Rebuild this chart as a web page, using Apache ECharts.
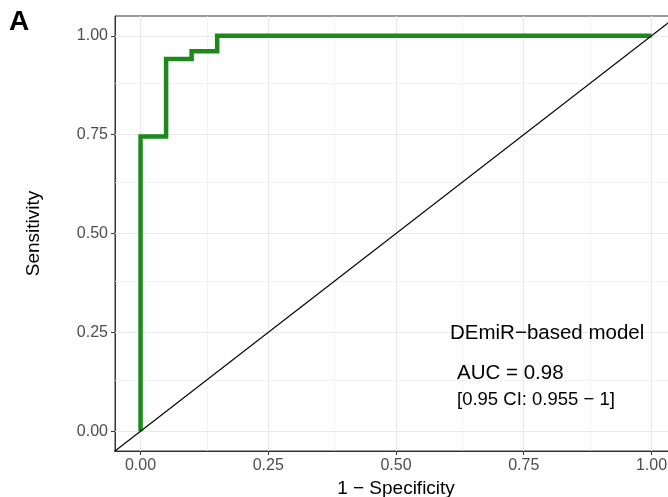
<!DOCTYPE html>
<html>
<head>
<meta charset="utf-8">
<title>ROC curve</title>
<style>
html,body{margin:0;padding:0;background:#fff;}
#main{width:668px;height:497px;}
</style>
</head>
<body>
<div id="main"></div>
<script src="https://cdn.jsdelivr.net/npm/echarts@6/dist/echarts.min.js"></script>
<script>
// ROC points (1 - specificity, sensitivity)
var fpr = [0, 0, 0.05, 0.05, 0.10, 0.10, 0.15, 0.15, 1];
var tpr = [0, 0.745, 0.745, 0.941, 0.941, 0.961, 0.961, 1, 1];
// reference diagonal
var refX = [-0.1, 1.1];
var refY = [-0.1, 1.1];
// ticks
var majorTicks = [0, 0.25, 0.5, 0.75, 1];
var minorTicks = [0.125, 0.375, 0.625, 0.875];

function zip(a, b) {
    return a.map(function (v, i) { return [v, b[i]]; });
}

var gridLines = [];
majorTicks.forEach(function (v) {
    gridLines.push({xAxis: v, lineStyle: {width: 1.2, color: '#e8e8e8'}});
    gridLines.push({yAxis: v, lineStyle: {width: 1.2, color: '#e8e8e8'}});
});
minorTicks.forEach(function (v) {
    gridLines.push({xAxis: v, lineStyle: {width: 0.7, color: '#eeeeee'}});
    gridLines.push({yAxis: v, lineStyle: {width: 0.7, color: '#eeeeee'}});
});

var font = '"Liberation Sans", Arial, sans-serif';

var axisCommon = {
    type: 'value',
    min: -0.05,
    max: 1.05,
    nameLocation: 'middle',
    nameTextStyle: {fontFamily: font, fontSize: 19, color: '#000'},
    axisLine: {show: true, onZero: false, lineStyle: {color: '#333', width: 1}},
    axisTick: {show: true, customValues: majorTicks, length: 4, lineStyle: {color: '#333'}},
    axisLabel: {
        customValues: majorTicks,
        margin: 7,
        fontFamily: font,
        fontSize: 16,
        color: '#4d4d4d',
        formatter: function (v) { return v.toFixed(2); }
    },
    splitLine: {show: false}
};

var option = {
    animation: false,
    backgroundColor: '#fff',
    grid: {
        left: 115, top: 16, bottom: 46, right: -9,
        containLabel: false,
        outerBoundsMode: 'none',
        show: true,
        borderColor: '#333',
        borderWidth: 1
    },
    xAxis: Object.assign({}, axisCommon, {name: '1 − Specificity', nameGap: 25}),
    yAxis: Object.assign({}, axisCommon, {name: 'Sensitivity', nameGap: 72}),
    graphic: [
        {type: 'text', z: 20, left: 9, top: 8, style: {text: 'A', font: 'bold 28px ' + font, fill: '#000'}},
        {type: 'text', z: 20, x: 450, y: 333, style: {text: 'DEmiR−based model', font: '20.5px ' + font, fill: '#000', verticalAlign: 'middle'}},
        {type: 'text', z: 20, x: 457, y: 373, style: {text: 'AUC = 0.98', font: '20.5px ' + font, fill: '#000', verticalAlign: 'middle'}},
        {type: 'text', z: 20, x: 457, y: 399.5, style: {text: '[0.95 CI: 0.955 − 1]', font: '18.5px ' + font, fill: '#000', verticalAlign: 'middle'}}
    ],
    series: [
        {
            name: 'grid',
            type: 'line',
            data: [],
            z: 1,
            silent: true,
            markLine: {
                z: 1,
                silent: true,
                symbol: ['none', 'none'],
                label: {show: false},
                lineStyle: {type: 'solid'},
                data: gridLines
            }
        },
        {
            name: 'ROC',
            type: 'line',
            data: zip(fpr, tpr),
            z: 3,
            symbol: 'none',
            lineStyle: {color: '#1b8a1b', width: 4.5, join: 'miter', cap: 'butt'}
        },
        {
            name: 'reference',
            type: 'line',
            data: zip(refX, refY),
            z: 4,
            symbol: 'none',
            clip: true,
            lineStyle: {color: '#000', width: 1.2}
        }
    ]
};

var myChart = echarts.init(document.getElementById('main'));
myChart.setOption(option);
</script>
</body>
</html>
